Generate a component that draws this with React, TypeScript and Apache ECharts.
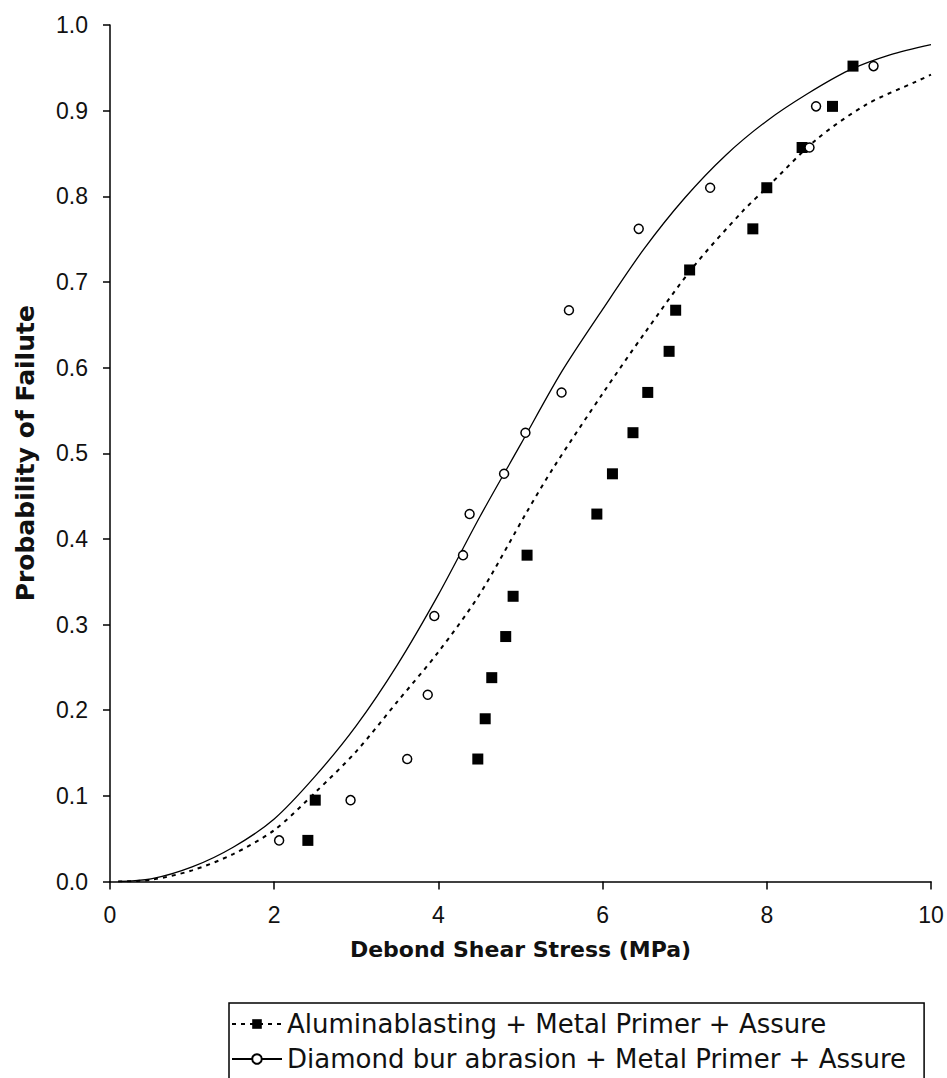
import React, { useEffect, useRef } from "react";
import * as echarts from "echarts";

const SERIES_A = "Aluminablasting + Metal Primer + Assure";
const SERIES_D = "Diamond bur abrasion + Metal Primer + Assure";

// Alumina blasting: measured points [stress, probability]
const aluminaX = [2.41, 2.5, 4.48, 4.57, 4.65, 4.82, 4.91, 5.08, 5.93, 6.12, 6.37, 6.55, 6.81, 6.89, 7.06, 7.83, 8.0, 8.43, 8.8, 9.05];
const aluminaY = [0.048, 0.095, 0.143, 0.19, 0.238, 0.286, 0.333, 0.381, 0.429, 0.476, 0.524, 0.571, 0.619, 0.667, 0.714, 0.762, 0.81, 0.857, 0.905, 0.952];

// Diamond bur: measured points
const diamondX = [2.06, 2.93, 3.62, 3.87, 3.95, 4.3, 4.38, 4.8, 5.06, 5.5, 5.59, 6.44, 7.31, 8.52, 8.6, 9.3];
const diamondY = [0.048, 0.095, 0.143, 0.218, 0.31, 0.381, 0.429, 0.476, 0.524, 0.571, 0.667, 0.762, 0.81, 0.857, 0.905, 0.952];

// Fitted curves
const aluminaFitX = [0.1, 0.5, 1.0, 1.5, 2.0, 2.5, 3.0, 3.5, 4.0, 4.5, 5.08, 5.4, 6.01, 6.51, 7.1, 7.71, 8.0, 8.6, 9.21, 9.82, 10];
const aluminaFitY = [0, 0.002, 0.013, 0.032, 0.06, 0.104, 0.152, 0.21, 0.268, 0.335, 0.432, 0.483, 0.571, 0.64, 0.717, 0.783, 0.81, 0.866, 0.907, 0.934, 0.942];

const diamondFitX = [0.1, 0.5, 1.0, 1.5, 2.0, 2.5, 3.0, 3.5, 4.0, 4.5, 5.0, 5.5, 6.0, 6.5, 7.0, 7.5, 8.0, 8.5, 9.0, 9.5, 10];
const diamondFitY = [0, 0.003, 0.017, 0.04, 0.073, 0.123, 0.182, 0.253, 0.335, 0.425, 0.51, 0.595, 0.668, 0.738, 0.798, 0.848, 0.888, 0.92, 0.947, 0.965, 0.977];

const xTicks = { min: 0, max: 10, interval: 2 };
const yTicks = { min: 0, max: 1, interval: 0.1 };

const zip = (xs: number[], ys: number[]) => xs.map((x, i) => [x, ys[i]]);

export default function App() {
  const ref = useRef<HTMLDivElement>(null);
  useEffect(() => {
    if (!ref.current) return;
    const chart = echarts.init(ref.current, undefined, { renderer: "svg" });
    const tickFont = { fontFamily: "'Liberation Sans', Arial, sans-serif", fontSize: 23, color: "#111" };
    chart.setOption({
      animation: false,
      backgroundColor: "#fff",
      grid: { left: 110, right: 16, top: 25, bottom: 196.5, containLabel: false },
      xAxis: {
        type: "value",
        min: xTicks.min,
        max: xTicks.max,
        interval: xTicks.interval,
        name: "Debond Shear Stress (MPa)",
        nameLocation: "middle",
        nameGap: 57,
        nameTextStyle: { fontFamily: "'DejaVu Sans', sans-serif", fontWeight: "bold", fontSize: 22, color: "#111" },
        axisLine: { lineStyle: { color: "#000", width: 1.5 } },
        axisTick: { show: true, inside: false, length: 8, lineStyle: { color: "#000", width: 1.5 } },
        axisLabel: { ...tickFont, margin: 22 },
        splitLine: { show: false },
      },
      yAxis: {
        type: "value",
        min: yTicks.min,
        max: yTicks.max,
        interval: yTicks.interval,
        name: "Probability of Failute",
        nameLocation: "middle",
        nameGap: 72,
        nameTextStyle: { fontFamily: "'DejaVu Sans', sans-serif", fontWeight: "bold", fontSize: 25, color: "#111" },
        axisLine: { show: true, lineStyle: { color: "#000", width: 1.5 } },
        axisTick: { show: true, inside: false, length: 7, lineStyle: { color: "#000", width: 1.5 } },
        axisLabel: { ...tickFont, margin: 22, formatter: (v: number) => v.toFixed(1) },
        splitLine: { show: false },
      },
      legend: {
        orient: "vertical",
        left: 229,
        top: 1003,
        height: 200,
        padding: [6, 18, 8, 2],
        borderColor: "#000",
        borderWidth: 1.5,
        itemWidth: 50,
        itemHeight: 12,
        itemGap: 5,
        data: [SERIES_A, SERIES_D],
        textStyle: { fontFamily: "'DejaVu Sans', sans-serif", fontSize: 26, lineHeight: 30, color: "#111" },
      },
      series: [
        {
          name: SERIES_A,
          type: "line",
          data: zip(aluminaFitX, aluminaFitY),
          smooth: 0.3,
          symbol: "rect",
          symbolSize: 11,
          showSymbol: false,
          itemStyle: { color: "#000" },
          lineStyle: { color: "#000", width: 2, type: [4, 5] },
          z: 2,
        },
        {
          name: SERIES_D,
          type: "line",
          data: zip(diamondFitX, diamondFitY),
          smooth: 0.3,
          symbol: "circle",
          symbolSize: 10,
          showSymbol: false,
          itemStyle: { color: "#fff", borderColor: "#000", borderWidth: 1.5 },
          lineStyle: { color: "#000", width: 1.3, type: "solid" },
          z: 2,
        },
        {
          name: SERIES_A,
          type: "scatter",
          data: zip(aluminaX, aluminaY),
          symbol: "rect",
          symbolSize: 11,
          itemStyle: { color: "#000", opacity: 1 },
          z: 3,
        },
        {
          name: SERIES_D,
          type: "scatter",
          data: zip(diamondX, diamondY),
          symbol: "circle",
          symbolSize: 9,
          itemStyle: { color: "#fff", borderColor: "#000", borderWidth: 1.5, opacity: 1 },
          z: 4,
        },
      ],
    });
    return () => chart.dispose();
  }, []);
  return (
    <div
      ref={ref}
      style={{ position: "fixed", left: 0, top: 0, width: 947, height: 1078, background: "#fff" }}
    />
  );
}
